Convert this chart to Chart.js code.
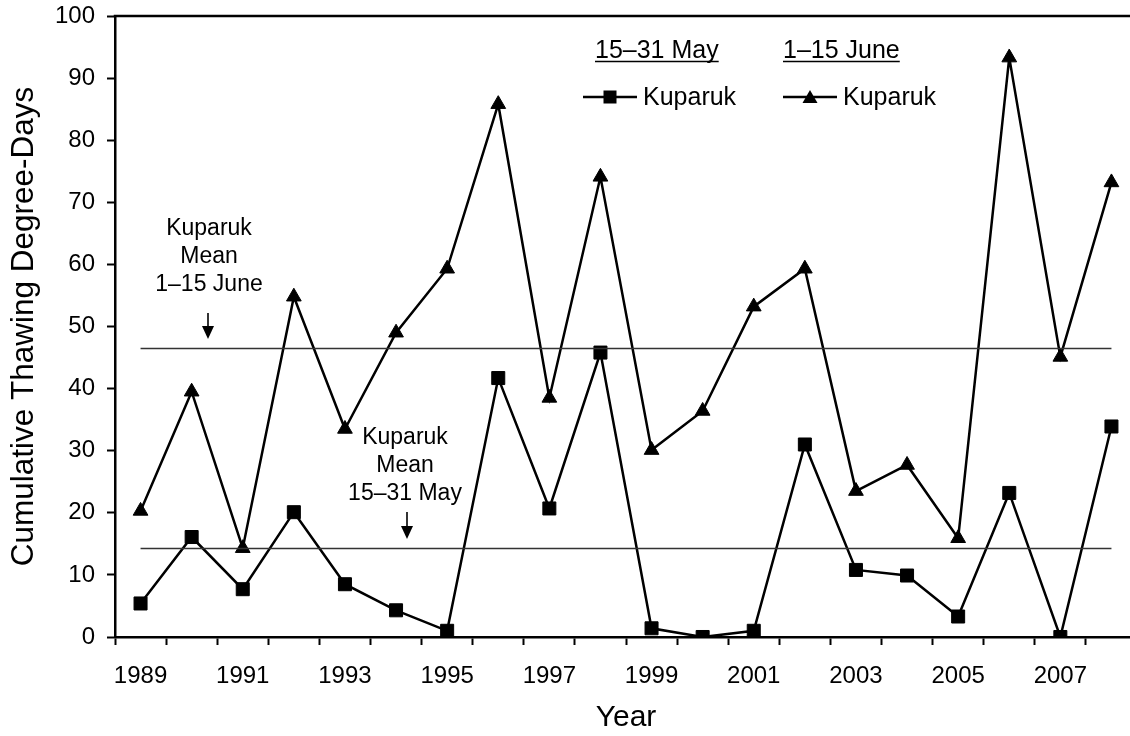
<!DOCTYPE html>
<html>
<head>
<meta charset="utf-8">
<script src="https://cdn.jsdelivr.net/npm/chart.js@4/dist/chart.umd.min.js"></script>
<style>
  html, body { margin: 0; padding: 0; background: #fff; overflow: hidden; }
  #wrap { width: 1130px; height: 736px; overflow: hidden; position: relative; }
  canvas { display: block; }
</style>
</head>
<body>
<div id="wrap"><canvas id="c" width="1160" height="736"></canvas></div>
<script>
// Cumulative thawing degree-days at Kuparuk, 1989–2008
const years = [1989, 1990, 1991, 1992, 1993, 1994, 1995, 1996, 1997, 1998,
               1999, 2000, 2001, 2002, 2003, 2004, 2005, 2006, 2007, 2008];
const maySeries  = [5.4, 16.1, 7.7, 20.1, 8.5, 4.3, 1.0, 41.7, 20.7, 45.8,
                    1.4, 0.0, 1.0, 31.0, 10.8, 9.9, 3.3, 23.2, 0.0, 33.9];
const juneSeries = [20.3, 39.5, 14.3, 54.8, 33.5, 49.0, 59.3, 85.8, 38.5, 74.1,
                    30.1, 36.4, 53.2, 59.3, 23.5, 27.7, 15.9, 93.3, 45.1, 73.2];
const meanMay = 14.3;
const meanJune = 46.5;
const yTicks = [0, 10, 20, 30, 40, 50, 60, 70, 80, 90, 100];

const FONT = '"Liberation Sans", Arial, Helvetica, sans-serif';

// Reference lines, notes, arrows, legend and the top frame line
const decorations = {
  id: 'decorations',
  afterDatasetsDraw(chart) {
    const ctx = chart.ctx;
    const area = chart.chartArea;
    const xs = chart.scales.x, ys = chart.scales.y;
    ctx.save();

    // top frame line
    ctx.strokeStyle = '#000';
    ctx.lineWidth = 2.5;
    ctx.beginPath();
    ctx.moveTo(area.left - 1.25, area.top);
    ctx.lineTo(area.right, area.top);
    ctx.stroke();

    // mean lines spanning first to last year
    const x0 = xs.getPixelForValue(0);
    const x1 = xs.getPixelForValue(years.length - 1);
    ctx.strokeStyle = '#333';
    ctx.lineWidth = 1.3;
    [meanJune, meanMay].forEach(m => {
      const y = Math.round(ys.getPixelForValue(m)) + 0.5;
      ctx.beginPath();
      ctx.moveTo(x0, y);
      ctx.lineTo(x1, y);
      ctx.stroke();
    });

    // notes
    ctx.fillStyle = '#000';
    ctx.font = '23px ' + FONT;
    ctx.textAlign = 'center';
    ctx.textBaseline = 'alphabetic';
    const note = (cx, baselines, lines) => {
      lines.forEach((t, i) => ctx.fillText(t, cx, baselines[i]));
    };
    note(209, [235, 263, 291], ['Kuparuk', 'Mean', '1–15 June']);
    note(405, [444, 472, 500], ['Kuparuk', 'Mean', '15–31 May']);

    const arrow = (x, yTop, yTip) => {
      ctx.strokeStyle = '#000';
      ctx.lineWidth = 1.6;
      ctx.beginPath();
      ctx.moveTo(x, yTop);
      ctx.lineTo(x, yTip - 10);
      ctx.stroke();
      ctx.beginPath();
      ctx.moveTo(x - 6, yTip - 13);
      ctx.lineTo(x + 6, yTip - 13);
      ctx.lineTo(x, yTip);
      ctx.closePath();
      ctx.fill();
    };
    arrow(208, 313, 339);
    arrow(407, 512, 539);

    // legend
    ctx.font = '25px ' + FONT;
    ctx.textAlign = 'left';
    const heading = (x, text) => {
      ctx.fillText(text, x, 58);
      const w = ctx.measureText(text).width;
      ctx.lineWidth = 1.6;
      ctx.beginPath();
      ctx.moveTo(x, 61.5);
      ctx.lineTo(x + w, 61.5);
      ctx.stroke();
    };
    heading(595, '15–31 May');
    heading(783, '1–15 June');

    const entryLine = (xa, xb, y) => {
      ctx.lineWidth = 2.5;
      ctx.beginPath();
      ctx.moveTo(xa, y);
      ctx.lineTo(xb, y);
      ctx.stroke();
    };
    entryLine(583, 637, 97);
    ctx.fillRect(610 - 6.5, 97 - 6.5, 13, 13);
    ctx.fillText('Kuparuk', 643, 105);

    entryLine(783, 837, 97);
    ctx.beginPath();
    ctx.moveTo(810, 90);
    ctx.lineTo(817.5, 103);
    ctx.lineTo(802.5, 103);
    ctx.closePath();
    ctx.fill();
    ctx.fillText('Kuparuk', 843, 105);

    ctx.restore();
  }
};

new Chart(document.getElementById('c'), {
  type: 'line',
  data: {
    labels: years.map(String),
    datasets: [
      {
        label: 'Kuparuk 15–31 May',
        data: maySeries,
        borderColor: '#000',
        backgroundColor: '#000',
        borderWidth: 2.5,
        pointStyle: 'rect',
        pointRadius: 9.2,
        pointBackgroundColor: '#000',
        pointBorderColor: '#000',
        pointBorderWidth: 1,
        tension: 0
      },
      {
        label: 'Kuparuk 1–15 June',
        data: juneSeries,
        borderColor: '#000',
        backgroundColor: '#000',
        borderWidth: 2.5,
        pointStyle: 'triangle',
        pointRadius: 8.5,
        pointBackgroundColor: '#000',
        pointBorderColor: '#000',
        pointBorderWidth: 1,
        tension: 0
      }
    ]
  },
  options: {
    responsive: false,
    animation: false,
    events: [],
    layout: { padding: { left: 0, top: 16, right: 23, bottom: 0 } },
    plugins: {
      legend: { display: false },
      tooltip: { enabled: false }
    },
    scales: {
      x: {
        type: 'category',
        offset: true,
        grid: {
          offset: true,
          drawOnChartArea: false,
          drawTicks: true,
          tickLength: 8,
          tickColor: '#000',
          tickWidth: 2
        },
        border: { display: true, color: '#000', width: 2.5 },
        ticks: {
          autoSkip: false,
          maxRotation: 0,
          minRotation: 0,
          padding: 17,
          color: '#000',
          font: { family: FONT, size: 24 }
        ,
          callback: (v, i) => ((years[i] - years[0]) % 2 === 0 ? String(years[i]) : '')
        },
        title: {
          display: true,
          text: 'Year',
          color: '#000',
          font: { family: FONT, size: 30, lineHeight: 1.2 },
          padding: { top: 0, bottom: 0 }
        },
        afterFit: s => { s.height = 99; s.paddingLeft = 0; s.paddingRight = 0; }
      },
      y: {
        min: 0,
        max: 100,
        afterBuildTicks: s => { s.ticks = yTicks.map(v => ({ value: v })); },
        grid: {
          drawOnChartArea: false,
          drawTicks: true,
          tickLength: 8,
          tickColor: '#000',
          tickWidth: 2
        },
        border: { display: true, color: '#000', width: 2.5 },
        ticks: {
          padding: 12,
          color: '#000',
          font: { family: FONT, size: 24 }
        },
        title: {
          display: true,
          text: 'Cumulative Thawing Degree-Days',
          color: '#000',
          font: { family: FONT, size: 31.5, lineHeight: 1.2 },
          padding: { top: 5, bottom: 0 }
        },
        afterFit: s => { s.width = 115; s.paddingTop = 0; s.paddingBottom = 0; }
      }
    }
  },
  plugins: [decorations]
});
</script>
</body>
</html>
